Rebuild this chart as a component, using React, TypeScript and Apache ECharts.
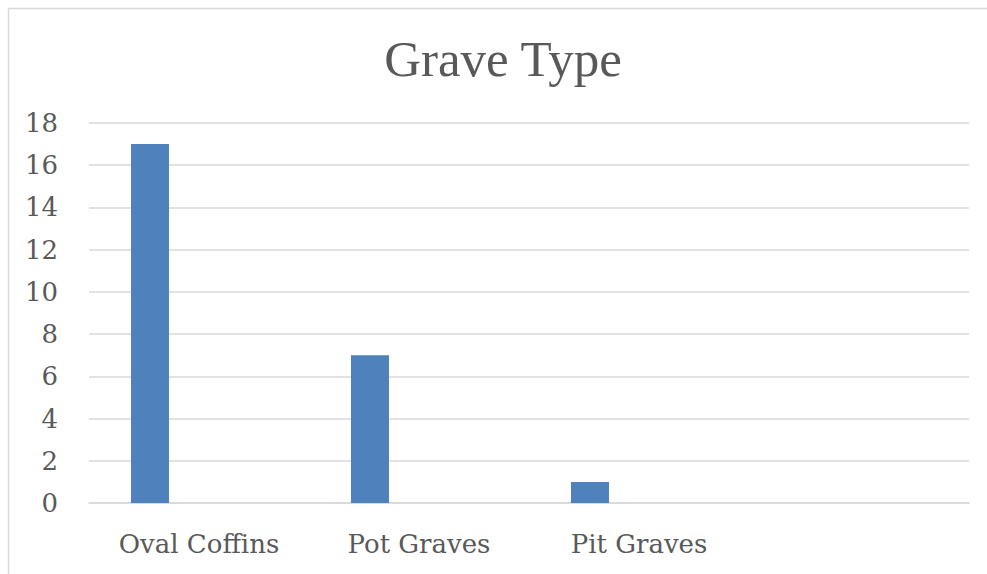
import React, { useEffect, useRef } from "react";
import * as echarts from "echarts";

const titleText = "Grave Type";
const categories = ["Oval Coffins", "Pot Graves", "Pit Graves", ""];
const graveCounts = [17, 7, 1, null];
const placeholderSeries = [null, null, null, null];
const yMin = 0;
const yMax = 18;
const yStep = 2;

export default function App() {
  const ref = useRef<HTMLDivElement>(null);
  useEffect(() => {
    if (!ref.current) return;
    const chart = echarts.init(ref.current, null, { renderer: "svg" });
    const textColor = "#595959";
    const gridColor = "#d9d9d9";
    chart.setOption({
      animation: false,
      backgroundColor: "#ffffff",
      title: {
        text: titleText,
        left: 498,
        top: 28,
        textAlign: "center",
        textStyle: {
          fontFamily: "Liberation Serif",
          fontSize: 51,
          fontWeight: "normal",
          color: textColor,
        },
      },
      graphic: [
        {
          type: "rect",
          shape: { x: 8.5, y: 8.5, width: 1100, height: 700 },
          style: { fill: "none", stroke: gridColor, lineWidth: 1.5 },
          silent: true,
        },
      ],
      grid: { left: 89, right: 18, top: 123, bottom: 71, containLabel: false },
      xAxis: {
        type: "category",
        data: categories,
        axisLine: { show: true, lineStyle: { color: gridColor, width: 1.5 } },
        axisTick: { show: false },
        axisLabel: {
          color: textColor,
          fontFamily: "DejaVu Serif",
          fontSize: 26,
          margin: 28,
          interval: 0,
        },
      },
      yAxis: {
        type: "value",
        min: yMin,
        max: yMax,
        interval: yStep,
        axisLine: { show: false },
        axisTick: { show: false },
        splitLine: { lineStyle: { color: gridColor, width: 1.5 } },
        axisLabel: {
          color: textColor,
          fontFamily: "DejaVu Serif",
          fontSize: 26,
          margin: 31,
        },
      },
      series: [
        {
          name: "Grave Type",
          type: "bar",
          data: graveCounts,
          barWidth: 38,
          barGap: "158%",
          itemStyle: { color: "#4f81bd" },
        },
        {
          name: "Placeholder",
          type: "bar",
          data: placeholderSeries,
          barWidth: 38,
          itemStyle: { color: "#c0504d" },
        },
      ],
    });
    return () => chart.dispose();
  }, []);
  return (
    <div
      ref={ref}
      style={{ position: "absolute", left: 0, top: 0, width: 987, height: 574 }}
    />
  );
}
